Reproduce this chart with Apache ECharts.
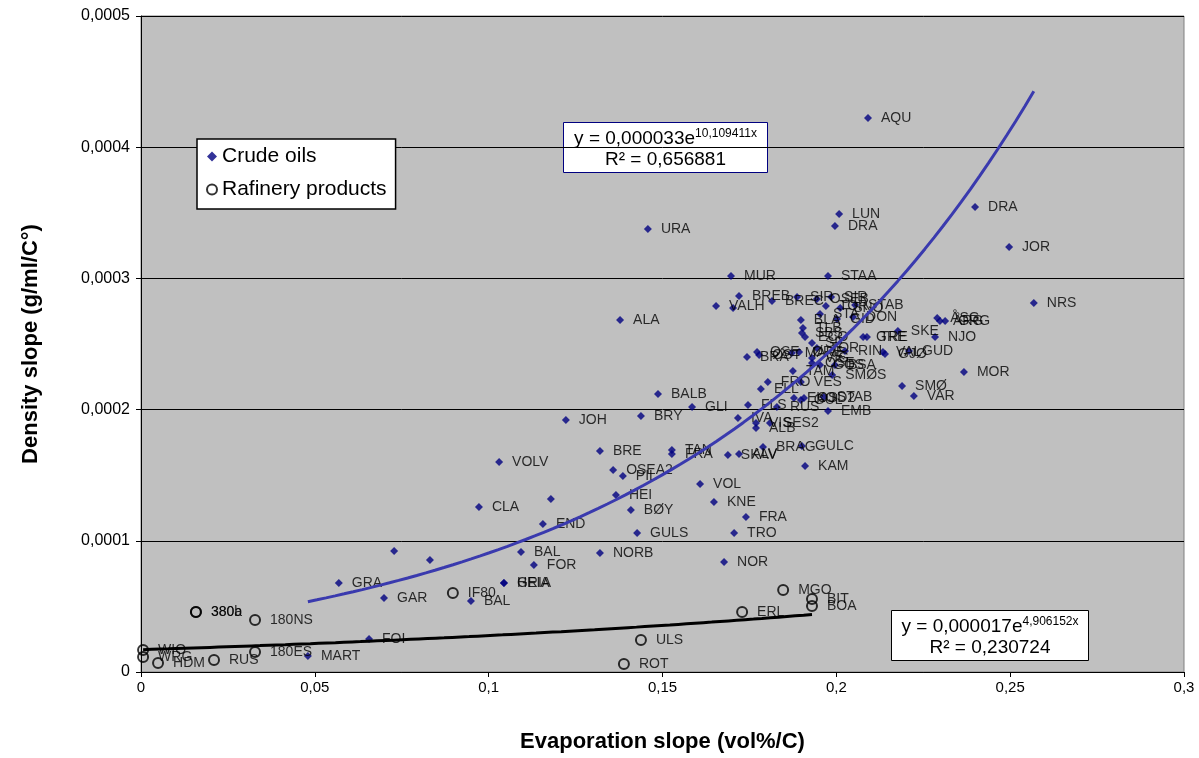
<!DOCTYPE html>
<html>
<head>
<meta charset="utf-8">
<script src="https://cdn.jsdelivr.net/npm/echarts@6/dist/echarts.min.js"></script>
<style>
  html, body { margin: 0; padding: 0; background: #fff; }
  #chart { width: 1199px; height: 758px; }
</style>
</head>
<body>
<div id="chart"></div>
<script>
// Crude oils: evaporation slope (vol%/C), density slope (g/ml/C°), field code
const crudeNames = [
  'AQU','LUN','DRA','DRA','JOR','NRS','URA','MUR','STAA','ALA',
  'VALH','','BREB','BREC','SIR','OSEB','SIR','TOR','SNO','STAB',
  'STA','BLA','GID','DON','TLB','SBS','ECO','SF','TOR','GRE',
  'TRE','SKE','ÅSG','ÅRG','GRG','NJO','GUD','GJØ','VAL','MOR',
  'SMØ','VAR','RIN','BRA','OSE','ØST','MARE','ØRE','VIG','TAM',
  'SMØS','OSE','GOS','BSA','FRO','VES','ELL','EKO','GUL','OSD2',
  'STAB','EMB','FLS','RUS','GLI','IVA','VIS','ALB','SES2','BRAG',
  'GULC','KAM','SKAV','ALV','TAN','FRA','VOL','KNE','FRA','TRO',
  'BALB','BRY','BRE','OSEA2','PIL','HEI','BØY','GULS','JOH','VOLV',
  'CLA','','END','BAL','NORB','','','GRA','GAR','FOI',
  'MART','FOR','GRIA','HEIA','BAL','NOR'
];
const crudeX = [
  0.2091,0.2008,0.1996,0.2399,0.2497,0.2568,0.1458,0.1697,0.1976,0.1378,
  0.1654,0.1703,0.1720,0.1815,0.1887,0.1944,0.1985,0.1970,0.2011,0.2054,
  0.1953,0.1898,0.2002,0.2048,0.1904,0.1901,0.1910,0.1930,0.1944,0.2077,
  0.2088,0.2177,0.2290,0.2298,0.2313,0.2284,0.2209,0.2140,0.2134,0.2367,
  0.2189,0.2223,0.2025,0.1743,0.1772,0.1778,0.1872,0.1893,0.1930,0.1875,
  0.1988,0.1930,0.1953,0.1996,0.1803,0.1898,0.1783,0.1878,0.1898,0.1907,
  0.1964,0.1976,0.1746,0.1829,0.1585,0.1717,0.1769,0.1769,0.1809,0.1789,
  0.1901,0.1910,0.1688,0.1720,0.1527,0.1527,0.1608,0.1648,0.1740,0.1706,
  0.1487,0.1438,0.1320,0.1358,0.1386,0.1366,0.1409,0.1427,0.1222,0.1030,
  0.0972,0.1179,0.1156,0.1093,0.1320,0.0728,0.0831,0.0569,0.0699,0.0656,
  0.0480,0.1130,0.1044,0.1044,0.0949,0.1677
];
const crudeY = [
  0.0004223,0.0003491,0.0003399,0.0003544,0.0003239,0.0002813,0.0003377,0.0003018,0.0003018,0.0002683,
  0.0002790,0.0002774,0.0002866,0.0002828,0.0002858,0.0002843,0.0002858,0.0002790,0.0002774,0.0002797,
  0.0002729,0.0002683,0.0002691,0.0002706,0.0002622,0.0002584,0.0002553,0.0002508,0.0002470,0.0002553,
  0.0002553,0.0002599,0.0002698,0.0002675,0.0002675,0.0002553,0.0002447,0.0002424,0.0002439,0.0002287,
  0.0002180,0.0002104,0.0002447,0.0002401,0.0002439,0.0002416,0.0002431,0.0002439,0.0002393,0.0002294,
  0.0002264,0.0002355,0.0002340,0.0002340,0.0002210,0.0002210,0.0002157,0.0002088,0.0002073,0.0002088,
  0.0002096,0.0001989,0.0002035,0.0002020,0.0002020,0.0001936,0.0001898,0.0001860,0.0001898,0.0001715,
  0.0001723,0.0001570,0.0001654,0.0001662,0.0001692,0.0001662,0.0001433,0.0001296,0.0001181,0.0001059,
  0.0002119,0.0001951,0.0001684,0.0001540,0.0001494,0.0001349,0.0001235,0.0001059,0.0001921,0.0001601,
  0.0001258,0.0001319,0.0001128,0.0000915,0.0000907,0.0000922,0.0000854,0.0000678,0.0000564,0.0000252,
  0.0000122,0.0000816,0.0000678,0.0000678,0.0000541,0.0000838
];

// Refinery products
const refNames = ['380a','380b','180NS','180ES','WIO','WRG','HDM','RUS','IF80','ULS','ROT','ERL','MGO','BIT','BOA'];
const refX = [0.0158,0.0158,0.0328,0.0328,0.0006,0.0006,0.0049,0.0210,0.0897,0.1438,0.1389,0.1729,0.1847,0.1930,0.1930];
const refY = [0.0000457,0.0000457,0.0000396,0.0000152,0.0000168,0.0000114,0.0000069,0.0000091,0.0000602,0.0000244,0.0000061,0.0000457,0.0000625,0.0000556,0.0000503];

// Exponential trendlines y = a·e^(b·x), coefficients as printed in the boxes
const crudeFit = { a: 0.000033, b: 10.109411, aText: '0,000033', bText: '10,109411', r2: '0,656881' };
const refFit = { a: 0.000017, b: 4.906152, aText: '0,000017', bText: '4,906152', r2: '0,230724' };

// Axis ticks
const xTicks = [0, 0.05, 0.1, 0.15, 0.2, 0.25, 0.3];
const yTicks = [0, 0.0001, 0.0002, 0.0003, 0.0004, 0.0005];

const FONT = '"Liberation Sans", Arial, sans-serif';
const comma = v => String(Number(v.toFixed(6))).replace('.', ',');

function zip(xs, ys, ns) { return xs.map((x, i) => [x, ys[i], ns[i]]); }
function trend(fit, xs) {
  const lo = Math.min(...xs), hi = Math.max(...xs), n = 80, pts = [];
  for (let i = 0; i <= n; i++) {
    const x = lo + (hi - lo) * i / n;
    pts.push([x, fit.a * Math.exp(fit.b * x)]);
  }
  return pts;
}

// White box with the fitted equation and R²
function equationBox(fit, left, top, width, stroke) {
  const eqStyle = {
    m: { fontSize: 19, fontFamily: FONT, fill: '#000', lineHeight: 22 },
    s: { fontSize: 12, fontFamily: FONT, fill: '#000', verticalAlign: 'top', lineHeight: 22 }
  };
  return {
    type: 'group', left: left, top: top, z: 10,
    children: [
      { type: 'rect', shape: { x: 0, y: 0, width: width, height: 50 },
        style: { fill: '#fff', stroke: stroke, lineWidth: 1 } },
      { type: 'text', x: width / 2, y: 5,
        style: { text: '{m|y = ' + fit.aText + 'e}{s|' + fit.bText + 'x}', align: 'center', rich: eqStyle } },
      { type: 'text', x: width / 2, y: 28,
        style: { text: 'R² = ' + fit.r2, align: 'center', fontSize: 19, fontFamily: FONT, fill: '#000' } }
    ]
  };
}

const chart = echarts.init(document.getElementById('chart'), null, { renderer: 'canvas' });

const pointLabel = {
  show: true, position: 'right', distance: 9,
  formatter: p => p.data[2], color: '#000', fontSize: 14, fontFamily: FONT
};

chart.setOption({
  backgroundColor: '#ffffff',
  animation: false,
  textStyle: { fontFamily: FONT },
  grid: {
    left: 141, top: 16, width: 1043, height: 656,
    show: true, backgroundColor: '#C0C0C0', borderColor: '#808080', borderWidth: 1
  },
  xAxis: {
    type: 'value', min: xTicks[0], max: xTicks[xTicks.length - 1], interval: 0.05,
    name: 'Evaporation slope (vol%/C)', nameLocation: 'middle', nameGap: 59,
    nameTextStyle: { fontSize: 22, fontWeight: 'bold', color: '#000', fontFamily: FONT },
    axisLine: { onZero: false, lineStyle: { color: '#000', width: 1 } },
    axisTick: { show: true, inside: false, length: 5, lineStyle: { color: '#000' } },
    axisLabel: { formatter: comma, color: '#000', fontSize: 15, margin: 8, fontFamily: FONT },
    splitLine: { show: false }
  },
  yAxis: {
    type: 'value', min: yTicks[0], max: yTicks[yTicks.length - 1], interval: 0.0001,
    name: 'Density slope (g/ml/C°)', nameLocation: 'middle', nameGap: 99,
    nameTextStyle: { fontSize: 22, fontWeight: 'bold', color: '#000', fontFamily: FONT },
    axisLine: { onZero: false, lineStyle: { color: '#000', width: 1 } },
    axisTick: { show: true, inside: false, length: 5, lineStyle: { color: '#000' } },
    axisLabel: { formatter: comma, color: '#000', fontSize: 16, margin: 11, fontFamily: FONT },
    splitLine: { show: true, lineStyle: { color: '#000', width: 1 } }
  },
  legend: {
    orient: 'vertical', left: 197, top: 139,
    backgroundColor: '#fff', borderColor: '#000', borderWidth: 1.5,
    padding: [7, 9, 9, 9], itemGap: 12, itemWidth: 10, itemHeight: 10,
    textStyle: { fontSize: 21, color: '#000', fontFamily: FONT },
    data: [
      { name: 'Crude oils', icon: 'diamond', itemStyle: { color: '#000080' } },
      { name: 'Rafinery products', icon: 'circle',
        itemStyle: { color: '#ffffff', borderColor: '#000', borderWidth: 2 } }
    ]
  },
  series: [
    {
      name: 'Crude oils', type: 'scatter', z: 3,
      symbol: 'diamond', symbolSize: 8,
      itemStyle: { color: '#000080' },
      label: pointLabel, labelLayout: { hideOverlap: false },
      data: zip(crudeX, crudeY, crudeNames)
    },
    {
      name: 'Rafinery products', type: 'scatter', z: 3,
      symbol: 'circle', symbolSize: 10,
      itemStyle: { color: 'transparent', borderColor: '#000', borderWidth: 2 },
      label: pointLabel, labelLayout: { hideOverlap: false },
      data: zip(refX, refY, refNames)
    },
    {
      name: 'Crude oils trend', type: 'line', z: 4, showSymbol: false, silent: true,
      lineStyle: { color: '#3A3AAE', width: 3 },
      data: trend(crudeFit, crudeX)
    },
    {
      name: 'Rafinery trend', type: 'line', z: 4, showSymbol: false, silent: true,
      lineStyle: { color: '#000', width: 3 },
      data: trend(refFit, refX)
    }
  ],
  graphic: [
    equationBox(crudeFit, 563, 122, 204, '#000080'),
    equationBox(refFit, 891, 610, 197, '#000')
  ]
});
</script>
</body>
</html>
